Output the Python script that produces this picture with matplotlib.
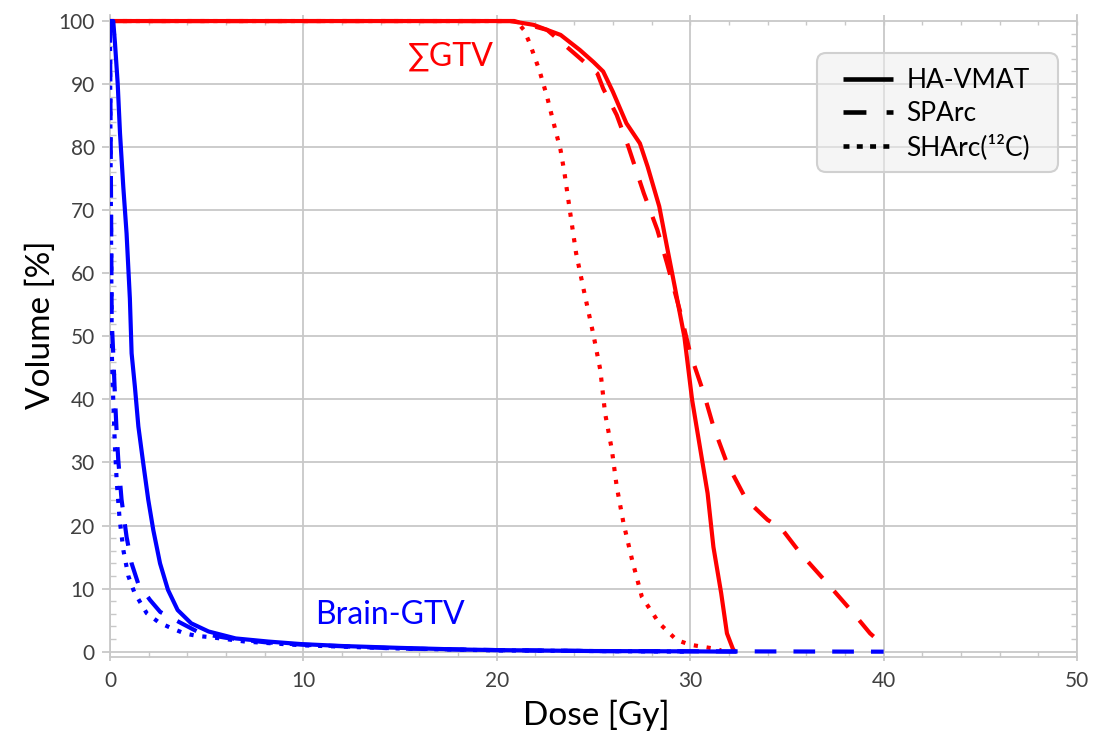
import matplotlib
matplotlib.use("Agg")
import matplotlib.pyplot as plt
from matplotlib.lines import Line2D
from matplotlib.patches import FancyBboxPatch
from matplotlib.transforms import IdentityTransform
from matplotlib.ticker import MultipleLocator

plt.rcParams['font.family'] = ['Lato', 'DejaVu Sans']

# ---------------- data (Dose [Gy], Volume [%]) ----------------
gtv_havmat_d = [0, 20.0, 20.7, 21.9, 23.3, 24.3, 25.0, 25.5, 26.0, 26.7, 27.4, 27.8, 28.4, 28.8,
                29.2, 29.7, 30.1, 30.5, 30.9, 31.2, 31.6, 31.9, 32.2, 32.3]
gtv_havmat_v = [100, 100, 100, 99.4, 97.8, 95.4, 93.5, 92.0, 88.8, 83.8, 80.6, 76.9, 70.6, 64.2,
                57.9, 49.9, 39.9, 32.5, 25.1, 16.6, 9.3, 2.9, 0.5, 0]

gtv_sparc_d = [0, 20.9, 22.6, 24.0, 25.2, 25.5, 26.2, 26.8, 27.6, 28.3, 28.8, 29.5, 30.0, 30.7,
               31.2, 31.9, 32.9, 34.0, 34.7, 35.7, 37.1, 38.3, 39.3, 39.9, 40.0]
gtv_sparc_v = [100, 100, 98.6, 94.9, 91.7, 89.3, 85.1, 80.1, 72.7, 66.9, 61.6, 53.7, 47.3, 41.0,
               35.7, 29.9, 24.1, 20.9, 19.6, 15.6, 10.8, 6.6, 2.9, 1.3, 0.8]

gtv_sharc_d = [0, 21.0, 21.4, 21.7, 22.2, 22.6, 22.9, 23.3, 23.5, 23.8, 24.1, 24.5, 25.0, 25.35,
               25.6, 25.95, 26.2, 26.55, 27.0, 27.5, 28.4, 29.3, 30.0, 31.2, 31.6]
gtv_sharc_v = [100, 100, 98.6, 96.5, 92.2, 88.0, 84.3, 79.5, 75.9, 69.5, 63.2, 57.3, 50.2, 44.7,
               37.8, 32.0, 26.2, 20.4, 14.5, 8.7, 4.5, 1.85, 1.1, 0.5, 0.2]

brain_havmat_d = [0, 0.17, 0.26, 0.4, 0.52, 0.69, 0.86, 1.03, 1.12, 1.29, 1.47, 1.72, 1.98, 2.24,
                  2.59, 3.0, 3.5, 4.2, 5.1, 6.5, 8.2, 9.9, 12, 15, 18, 20, 25, 30, 32.4]
brain_havmat_v = [100, 100, 96.5, 90.1, 82.2, 73.7, 66.3, 56.0, 47.3, 42.0, 35.7, 29.9, 24.1, 19.3,
                  14.0, 9.8, 6.6, 4.5, 3.2, 2.1, 1.6, 1.2, 0.9, 0.6, 0.35, 0.25, 0.1, 0.05, 0]

brain_sparc_d = [0, 0.03, 0.06, 0.09, 0.17, 0.26, 0.34, 0.43, 0.6, 0.86, 1.12, 1.46, 2.07, 2.6,
                 3.7, 4.7, 6.0, 8.0, 10, 15, 20, 25, 32, 40]
brain_sparc_v = [100, 85, 70, 52.6, 47.3, 40.4, 35.2, 30.4, 24.1, 18.2, 14.0, 10.8, 8.2, 6.3,
                 4.5, 2.9, 2.2, 1.5, 1.1, 0.5, 0.25, 0.1, 0.05, 0]

brain_sharc_d = [0, 0.02, 0.05, 0.08, 0.1, 0.17, 0.25, 0.35, 0.5, 0.7, 0.95, 1.25, 1.55, 1.9,
                 2.55, 3.2, 3.85, 4.5, 5.2, 7, 10, 15, 20, 25, 30]
brain_sharc_v = [100, 85, 70, 55, 47, 40, 33, 27, 21, 16, 12, 9.5, 7.9, 6.1,
                 4.6, 3.7, 2.9, 2.5, 2.3, 1.6, 1.0, 0.5, 0.2, 0.1, 0]

legend_labels = ["HA-VMAT", "SPArc", "SHArc(¹²C)"]
x_ticks = [0, 10, 20, 30, 40, 50]
y_ticks = [0, 10, 20, 30, 40, 50, 60, 70, 80, 90, 100]

# ---------------- styling ----------------
RED = '#ff0000'
BLUE = '#0000ff'
GRID = '#c8c8c8'
TICKC = '#404040'
LW = 3.0
DASH = (0, (5.2, 4.1))
DOT = (0, (1.0, 2.1))

fig = plt.figure(figsize=(10.94, 7.37), dpi=100)
ax = fig.add_axes([0.1005, 0.1085, 0.884, 0.8715])

ax.plot(gtv_havmat_d, gtv_havmat_v, color=RED, lw=LW, solid_capstyle='butt', zorder=3)
ax.plot(gtv_sparc_d, gtv_sparc_v, color=RED, lw=LW, linestyle=DASH, zorder=3)
ax.plot(gtv_sharc_d, gtv_sharc_v, color=RED, lw=LW, linestyle=DOT, zorder=3)

ax.plot(brain_sparc_d, brain_sparc_v, color=BLUE, lw=LW, linestyle=DASH, zorder=4)
ax.plot(brain_sharc_d, brain_sharc_v, color=BLUE, lw=LW, linestyle=DOT, zorder=4)
ax.plot(brain_havmat_d, brain_havmat_v, color=BLUE, lw=LW, solid_capstyle='butt', zorder=5)

ax.set_xlim(0, 50)
ax.set_ylim(-0.85, 101)
ax.set_xticks(x_ticks)
ax.set_yticks(y_ticks)
ax.xaxis.set_minor_locator(MultipleLocator(2))
ax.yaxis.set_minor_locator(MultipleLocator(2))

ax.grid(True, which='major', color=GRID, lw=1.3, zorder=0)
ax.set_axisbelow(True)

for s in ['left', 'bottom', 'right']:
    ax.spines[s].set_color(GRID)
    ax.spines[s].set_linewidth(1.3)
ax.spines['top'].set_visible(False)

ax.tick_params(axis='both', which='major', colors=GRID, labelcolor=TICKC, labelsize=15, width=1.3)
ax.tick_params(axis='y', which='major', direction='out', length=6, pad=5)
ax.tick_params(axis='x', which='major', direction='out', length=3, pad=7)
ax.tick_params(axis='y', which='minor', direction='in', length=4, left=True, right=True,
               color=GRID, width=1.0)
ax.tick_params(axis='x', which='minor', direction='in', length=4, bottom=True, top=False,
               color=GRID, width=1.0)

# minor ticks along the 100 % line
loc100 = (100 + 0.85) / (101 + 0.85)
sec = ax.secondary_xaxis(loc100)
sec.set_xticks([])
sec.xaxis.set_minor_locator(MultipleLocator(2))
sec.tick_params(axis='x', which='minor', direction='in', length=3, color=GRID, width=1.0)
sec.spines['top'].set_visible(False)
sec.spines['bottom'].set_visible(False)

ax.set_xlabel("Dose [Gy]", fontsize=24, color='black')
ax.set_ylabel("Volume [%]", fontsize=24, color='black')
ax.xaxis.set_label_coords(0.5026, -0.066)
ax.yaxis.set_label_coords(-0.056, 0.517)

ax.text(17.6, 94.3, "∑GTV", color=RED, fontsize=23, ha='center', va='center')
ax.text(14.5, 5.8, "Brain-GTV", color=BLUE, fontsize=23, ha='center', va='center')

# legend frame (drawn in pixels)
frame = FancyBboxPatch((817, 737 - 172), 241, 119, boxstyle="round,pad=0,rounding_size=9",
                       transform=IdentityTransform(), facecolor='#eeeeee', alpha=0.55,
                       edgecolor='none', zorder=6)
frame_edge = FancyBboxPatch((817, 737 - 172), 241, 119, boxstyle="round,pad=0,rounding_size=9",
                            transform=IdentityTransform(), facecolor='none',
                            edgecolor='#d0d0d0', lw=1.5, zorder=6)
fig.patches.extend([frame, frame_edge])

handles = [
    Line2D([0], [0], color='black', lw=3.3, solid_capstyle='butt'),
    Line2D([0], [0], color='black', lw=3.3, linestyle=(0, (5.0, 4.4))),
    Line2D([0], [0], color='black', lw=3.3, linestyle=(0, (1.3, 1.6))),
]
leg = fig.legend(handles, legend_labels, loc='upper left',
                 bbox_to_anchor=(843 / 1094, 1 - 68 / 737), bbox_transform=fig.transFigure,
                 borderaxespad=0, borderpad=0, fontsize=19, handlelength=1.9,
                 handletextpad=0.5, labelspacing=0.31, frameon=False)
leg.set_zorder(7)

fig.savefig("out.png", dpi=100)
